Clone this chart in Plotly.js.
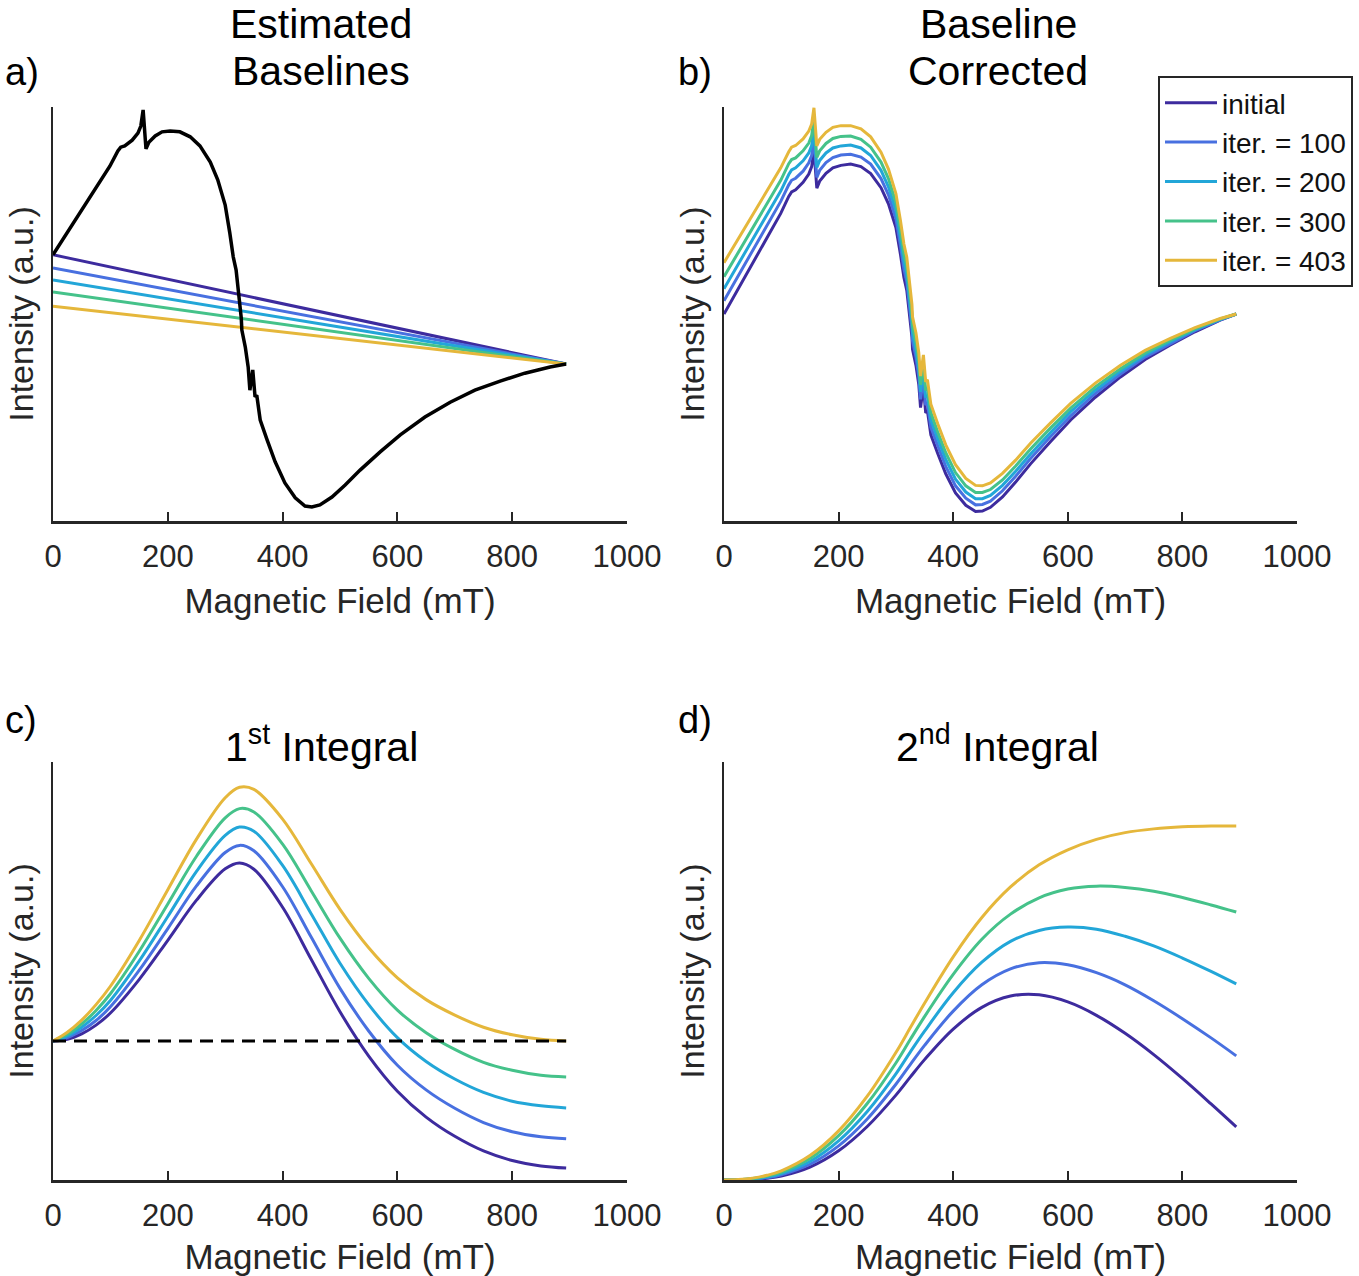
<!DOCTYPE html>
<html>
<head>
<meta charset="utf-8">
<script src="https://cdn.plot.ly/plotly-3.0.1.min.js"></script>
<style>
html,body{margin:0;padding:0;background:#ffffff;}
#chart{width:1359px;height:1276px;}
</style>
</head>
<body>
<div id="chart"></div>
<script>
// ---------- DATA ----------
const seriesNames = ['initial', 'iter. = 100', 'iter. = 200', 'iter. = 300', 'iter. = 403'];
const xTicks = [0, 200, 400, 600, 800, 1000];
const xTickLabels = ['0', '200', '400', '600', '800', '1000'];

// Panel a / b : magnetic field grid (mT)
const field = [0,30,64,99,113,118,125,138,148,153,157,160,162,167,178,190,204,221,239,256,274,287,300,308,314,319,321,324,328,329,335,340,343,348,352,355,361,373,387,404,422,439,451,465,486,509,535,570,605,648,692,735,779,822,866,894];

// Panel a : measured spectrum (black)
const spectrum = [14.3,20.8,28.3,35.7,39.4,40.3,40.6,42.0,43.7,45.4,49.3,42.5,39.9,41.5,43.0,44.0,44.2,44.0,42.8,40.6,36.7,32.4,26.3,19.6,13.8,10.6,8.2,3.4,-1.0,-3.9,-8.0,-12.8,-18.4,-13.5,-20.0,-19.6,-25.6,-30.4,-35.7,-40.8,-44.4,-46.4,-46.6,-46.1,-44.2,-41.3,-37.7,-33.3,-29.2,-24.9,-21.3,-18.4,-16.2,-14.3,-12.8,-12.1];

// Panel a : estimated baselines
const baselineField = [0, 447, 894];
const baselineInitial = [14.3, 1.1, -12.1];
const baseline100 = [11.1, -0.5, -12.1];
const baseline200 = [8.2, -2.0, -12.1];
const baseline300 = [5.3, -3.4, -12.1];
const baseline403 = [1.9, -5.1, -12.1];

// Panel b : baseline corrected spectra
const corrInitial = [0.0,7.4,15.9,24.3,28.4,29.5,30.0,31.8,33.8,35.6,39.6,32.9,30.4,32.1,34.0,35.3,35.9,36.2,35.6,33.9,30.5,26.6,20.9,14.4,8.8,5.7,3.4,-1.3,-5.6,-8.5,-12.4,-17.1,-22.6,-17.5,-23.9,-23.4,-29.2,-33.7,-38.6,-43.2,-46.2,-47.7,-47.6,-46.7,-44.2,-40.6,-36.2,-30.8,-25.6,-20.1,-15.2,-11.0,-7.5,-4.3,-1.5,0.0];
const corr100 = [3.2,10.5,18.9,27.2,31.2,32.3,32.8,34.5,36.5,38.3,42.2,35.5,33.0,34.7,36.6,37.8,38.4,38.6,37.9,36.2,32.7,28.8,23.0,16.5,10.9,7.8,5.5,0.7,-3.6,-6.5,-10.4,-15.1,-20.6,-15.6,-22.0,-21.5,-27.3,-31.8,-36.8,-41.5,-44.5,-46.1,-46.0,-45.2,-42.7,-39.2,-34.9,-29.6,-24.6,-19.2,-14.5,-10.4,-7.1,-4.0,-1.4,0.0];
const corr200 = [6.1,13.3,21.6,29.7,33.7,34.8,35.3,37.0,38.9,40.7,44.6,37.9,35.4,37.1,38.9,40.1,40.6,40.8,40.1,38.3,34.7,30.7,25.0,18.4,12.8,9.6,7.3,2.6,-1.7,-4.6,-8.6,-13.3,-18.8,-13.8,-20.2,-19.7,-25.6,-30.1,-35.1,-39.9,-43.0,-44.6,-44.6,-43.8,-41.4,-38.0,-33.8,-28.6,-23.6,-18.4,-13.8,-9.9,-6.7,-3.8,-1.3,0.0];
const corr300 = [9.0,16.1,24.3,32.3,36.3,37.3,37.7,39.4,41.3,43.1,47.0,40.3,37.8,39.4,41.2,42.4,42.9,43.0,42.2,40.3,36.7,32.7,26.9,20.3,14.6,11.5,9.2,4.4,0.1,-2.8,-6.8,-11.5,-17.1,-12.0,-18.4,-18.0,-23.8,-28.5,-33.5,-38.3,-41.5,-43.1,-43.1,-42.4,-40.1,-36.7,-32.6,-27.5,-22.7,-17.6,-13.2,-9.4,-6.3,-3.6,-1.2,0.0];
const corr403 = [12.4,19.4,27.4,35.3,39.2,40.3,40.7,42.3,44.2,45.9,49.8,43.1,40.6,42.2,43.9,45.1,45.5,45.5,44.7,42.8,39.1,35.0,29.1,22.5,16.9,13.7,11.4,6.6,2.3,-0.7,-4.6,-9.4,-15.0,-9.9,-16.4,-15.9,-21.8,-26.5,-31.6,-36.4,-39.7,-41.4,-41.5,-40.8,-38.5,-35.3,-31.2,-26.3,-21.6,-16.7,-12.4,-8.8,-5.9,-3.3,-1.1,0.0];

// Panel c : 1st integral
const fieldC = [0,25,50,75,100,150,200,250,300,325,350,400,450,500,550,600,650,700,750,800,850,894];
const int1Initial = [0,0.4,1.7,3.8,6.7,14.7,24.1,33.7,41.2,42.6,41.1,32.0,19.5,7.0,-3.6,-12.0,-18.2,-22.8,-26.3,-28.6,-29.9,-30.4];
const int1_100 = [0,0.8,2.5,4.9,8.2,16.9,26.9,37.1,45.1,46.8,45.5,36.9,24.8,12.6,2.4,-5.8,-11.7,-16.1,-19.5,-21.7,-22.9,-23.4];
const int1_200 = [0,1.2,3.3,6.1,9.7,19.1,29.8,40.6,49.2,51.2,50.2,42.0,30.4,18.6,8.7,0.8,-4.9,-9.1,-12.3,-14.4,-15.5,-16.0];
const int1_300 = [0,1.6,4.1,7.3,11.3,21.4,32.8,44.2,53.4,55.6,54.8,47.1,35.9,24.6,15.0,7.4,2.0,-2.0,-5.1,-7.0,-8.2,-8.6];
const int1_403 = [0,2.1,5.0,8.7,13.1,24.0,36.2,48.3,58.2,60.7,60.2,53.1,42.4,31.5,22.3,15.1,9.9,6.2,3.3,1.5,0.4,0.0];
const zeroLineX = [0, 894];
const zeroLineY = [0, 0];

// Panel d : 2nd integral
const fieldD = [0,25,50,75,100,150,200,250,300,325,350,400,450,500,550,600,650,700,750,800,850,894];
const int2Initial = [0,0.02,0.12,0.40,0.93,3.08,6.98,12.8,20.3,24.6,28.8,36.1,41.3,44.0,44.3,42.6,39.4,35.1,30.0,24.3,18.2,12.7];
const int2_100 = [0,0.04,0.20,0.57,1.24,3.76,8.16,14.6,22.9,27.6,32.2,40.4,46.7,50.5,52.0,51.5,49.6,46.7,42.9,38.6,34.0,29.7];
const int2_200 = [0,0.06,0.28,0.75,1.55,4.44,9.36,16.4,25.4,30.6,35.6,44.8,52.1,57.1,59.7,60.5,60.0,58.3,56.0,53.1,49.9,46.9];
const int2_300 = [0,0.08,0.36,0.93,1.86,5.13,10.6,18.3,28.0,33.6,39.1,49.2,57.6,63.6,67.5,69.6,70.3,70.0,69.1,67.6,65.8,64.1];
const int2_403 = [0,0.10,0.45,1.12,2.19,5.84,11.75,20.05,30.5,36.4,42.3,53.4,62.8,70.1,75.4,79.0,81.5,83.1,84.0,84.5,84.7,84.7];

// ---------- STYLE ----------
const W = 1359, H = 1276;
const FONT = 'Liberation Sans, Arial, Helvetica, sans-serif';
const AXC = '#262626';
const colors = ['#3d2b9e', '#4870e0', '#22a6d8', '#45c28a', '#e5b73b'];
const px = v => v / W;
const py = v => 1 - v / H;

const baselines = [baselineInitial, baseline100, baseline200, baseline300, baseline403];
const corrected = [corrInitial, corr100, corr200, corr300, corr403];
const int1 = [int1Initial, int1_100, int1_200, int1_300, int1_403];
const int2 = [int2Initial, int2_100, int2_200, int2_300, int2_403];

const traces = [];
// a) baselines then spectrum
baselines.forEach((b, i) => traces.push({
  x: baselineField, y: b, xaxis: 'x', yaxis: 'y', type: 'scatter', mode: 'lines',
  line: {color: colors[i], width: 3}, showlegend: false, hoverinfo: 'skip'
}));
traces.push({x: field, y: spectrum, xaxis: 'x', yaxis: 'y', type: 'scatter', mode: 'lines',
  line: {color: '#000000', width: 3.5}, showlegend: false, hoverinfo: 'skip'});
// b) corrected (legend)
corrected.forEach((c, i) => traces.push({
  x: field, y: c, xaxis: 'x2', yaxis: 'y2', type: 'scatter', mode: 'lines', name: seriesNames[i],
  line: {color: colors[i], width: 3}, showlegend: true
}));
// c) 1st integral
int1.forEach((c, i) => traces.push({
  x: fieldC, y: c, xaxis: 'x3', yaxis: 'y3', type: 'scatter', mode: 'lines',
  line: {color: colors[i], width: 3, shape: 'spline', smoothing: 1}, showlegend: false, hoverinfo: 'skip'
}));
traces.push({x: zeroLineX, y: zeroLineY, xaxis: 'x3', yaxis: 'y3', type: 'scatter', mode: 'lines',
  line: {color: '#000000', width: 3, dash: '13px,8px'}, showlegend: false, hoverinfo: 'skip'});
// d) 2nd integral
int2.forEach((c, i) => traces.push({
  x: fieldD, y: c, xaxis: 'x4', yaxis: 'y4', type: 'scatter', mode: 'lines',
  line: {color: colors[i], width: 3, shape: 'spline', smoothing: 1}, showlegend: false, hoverinfo: 'skip'
}));

function xax(domain, anchor) {
  return {
    domain: domain, anchor: anchor, range: [0, 1000],
    tickmode: 'array', tickvals: xTicks, ticktext: xTickLabels,
    ticks: 'inside', ticklen: 9, tickwidth: 2, tickcolor: AXC,
    showline: true, linecolor: AXC, linewidth: 2.5, mirror: false,
    showgrid: false, zeroline: false, automargin: false,
    tickfont: {family: FONT, size: 31, color: AXC},
    ticklabelstandoff: 6,
    title: {text: 'Magnetic Field (mT)', font: {family: FONT, size: 35, color: AXC}, standoff: 16},
    fixedrange: true
  };
}
function yax(domain, anchor, range) {
  return {
    domain: domain, anchor: anchor, range: range,
    showticklabels: false, ticks: '', showline: true, linecolor: AXC, linewidth: 2.5,
    showgrid: false, zeroline: false, automargin: false,
    title: {text: 'Intensity (a.u.)', font: {family: FONT, size: 34, color: AXC}, standoff: 7},
    fixedrange: true
  };
}

const xTop = [px(53), px(627)], xRight = [px(724), px(1297)];
const yTopRow = [py(521), py(107)], yBotRow = [py(1180), py(762)];

function ann(text, xpix, ypix, size, xanchor) {
  return {text: text, x: px(xpix), y: py(ypix), xref: 'paper', yref: 'paper',
    xanchor: xanchor || 'center', yanchor: 'middle', showarrow: false,
    font: {family: FONT, size: size, color: '#000000'}};
}

const layout = {
  width: W, height: H,
  margin: {l: 0, r: 0, t: 0, b: 0},
  paper_bgcolor: '#ffffff', plot_bgcolor: 'rgba(0,0,0,0)',
  showlegend: true,
  legend: {
    x: px(1158), y: py(76), xanchor: 'left', yanchor: 'top',
    bgcolor: '#ffffff', bordercolor: AXC, borderwidth: 2,
    font: {family: FONT, size: 28, color: '#111111'}, tracegroupgap: 0,
    itemwidth: 52
  },
  xaxis: xax(xTop, 'y'), yaxis: yax(yTopRow, 'x', [-50, 50]),
  xaxis2: xax(xRight, 'y2'), yaxis2: yax(yTopRow, 'x2', [-50, 50]),
  xaxis3: xax(xTop, 'y3'), yaxis3: yax(yBotRow, 'x3', [-33.25, 66.75]),
  xaxis4: xax(xRight, 'y4'), yaxis4: yax(yBotRow, 'x4', [0, 100]),
  annotations: [
    ann('Estimated', 321, 24, 41),
    ann('Baselines', 321, 71, 41),
    ann('Baseline', 998, 24, 41),
    ann('Corrected', 998, 71, 41),
    ann('a)', 3, 72, 38, 'left'),
    ann('b)', 676, 72, 38, 'left'),
    ann('c)', 3, 720, 38, 'left'),
    ann('d)', 676, 720, 38, 'left'),
    ann('1<sup>st</sup> Integral', 321, 744, 41),
    ann('2<sup>nd</sup> Integral', 997, 744, 41)
  ]
};

Plotly.newPlot('chart', traces, layout, {staticPlot: true, displayModeBar: false});
</script>
</body>
</html>
